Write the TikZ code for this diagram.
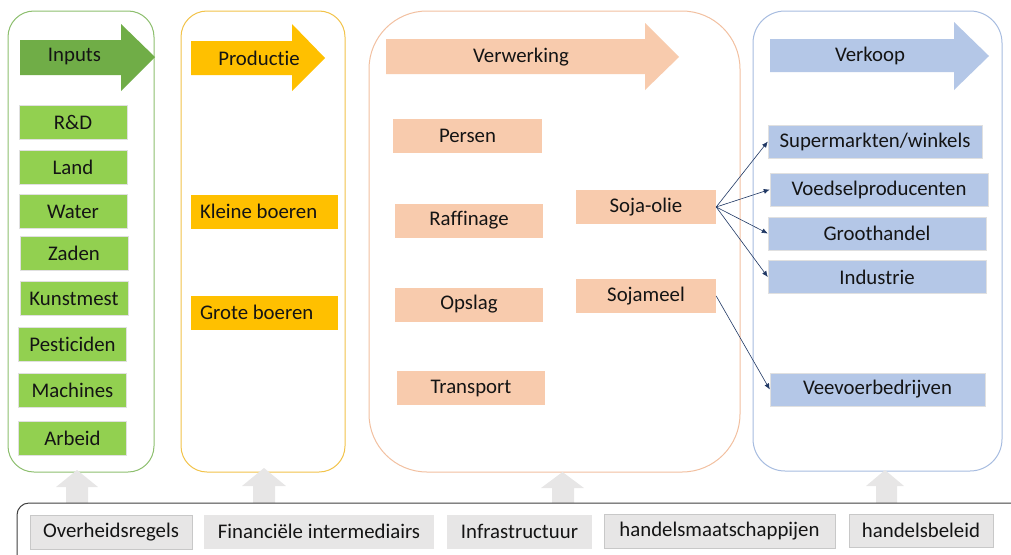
\documentclass[tikz,border=0pt]{standalone}
\usepackage{fontspec}
\setmainfont{Carlito}[Ligatures={NoCommon,NoDiscretionary}]
\usetikzlibrary{arrows.meta}
\definecolor{gIn}{HTML}{70AD47}
\definecolor{gBox}{HTML}{92D050}
\definecolor{gLine}{HTML}{8DBF6E}
\definecolor{yArr}{HTML}{FFC000}
\definecolor{yLine}{HTML}{F2C34A}
\definecolor{pArr}{HTML}{F8CBAD}
\definecolor{pLine}{HTML}{F2C0A0}
\definecolor{bArr}{HTML}{B4C7E7}
\definecolor{bLine}{HTML}{A7BCE0}
\definecolor{grFill}{HTML}{E7E6E6}
\definecolor{grLine}{HTML}{C8C8C8}
\definecolor{navy}{HTML}{203864}
\definecolor{txt}{HTML}{141414}
\tikzset{
  container/.style={line width=1pt, fill=white},
  itembox/.style={draw=black!12, line width=0.4pt, minimum height=34pt, inner sep=0pt, text=txt},
  greenbox/.style={itembox, fill=gBox, minimum width=108pt},
  yellowbox/.style={itembox, fill=yArr, draw=none, text width=129pt, align=flush left, inner xsep=9pt},
  peachbox/.style={itembox, fill=pArr, draw=none},
  bluebox/.style={itembox, fill=bArr, draw=black!12},
  graybox/.style={itembox, fill=grFill, draw=grLine},
  arrowlabel/.style={text=txt, inner sep=0pt},
  flow/.style={draw=navy, line width=0.6pt, -{Latex[length=6pt,width=5pt]}},
  uparrow/.style={fill=grFill, draw=none}
}
\begin{document}
\begin{tikzpicture}[x=1pt,y=-1pt, font=\fontsize{20.8}{24}\selectfont]
\useasboundingbox (0,0) rectangle (1011,554);
\begin{scope}
\clip (0,0) rectangle (1011,554);
% containers
\draw[container, draw=gLine, rounded corners=26pt] (8,11) rectangle (154,472);
\draw[container, draw=yLine, rounded corners=26pt] (181,11) rectangle (345,472);
\draw[container, draw=pLine, rounded corners=58pt] (369,11) rectangle (740,472);
\draw[container, draw=bLine, rounded corners=32pt] (753,11) rectangle (1002,471);
% header arrows
\fill[gIn] (20,40) -- (121,40) -- (121,24) -- (155,57) -- (121,91) -- (121,75) -- (20,75) -- cycle;
\node[arrowlabel] (inputs) at (74.5,57) {Inputs};
\fill[yArr] (191,41) -- (292,41) -- (292,24) -- (325,58) -- (292,91) -- (292,75) -- (191,75) -- cycle;
\node[arrowlabel] (productie) at (259,58) {Productie};
\fill[pArr] (386,39) -- (645,39) -- (645,23) -- (679,57) -- (645,90) -- (645,74) -- (386,74) -- cycle;
\node[arrowlabel] (verwerking) at (521,57) {Verwerking};
\fill[bArr] (770,39) -- (954,39) -- (954,22) -- (989,56) -- (954,90) -- (954,72) -- (770,72) -- cycle;
\node[arrowlabel] (verkoop) at (870,56) {Verkoop};
% inputs
\node[greenbox] (rd) at (73,122.5) {R\&D};
\node[greenbox] (land) at (73,167) {Land};
\node[greenbox] (water) at (73,211.5) {Water};
\node[greenbox] (zaden) at (74,253.5) {Zaden};
\node[greenbox] (kunstmest) at (74,298.5) {Kunstmest};
\node[greenbox] (pesticiden) at (72.5,344) {Pesticiden};
\node[greenbox] (machines) at (72.5,390) {Machines};
\node[greenbox] (arbeid) at (72.5,438) {Arbeid};
% productie
\node[yellowbox] (kleine) at (264.5,211.5) {Kleine boeren};
\node[yellowbox] (grote) at (264.5,312.5) {Grote boeren};
% verwerking
\node[peachbox, minimum width=149pt] (persen) at (467.5,136) {Persen};
\node[peachbox, minimum width=148pt] (raffinage) at (469,220.5) {Raffinage};
\node[peachbox, minimum width=148pt] (opslag) at (469,304.5) {Opslag};
\node[peachbox, minimum width=148pt] (transport) at (471,388) {Transport};
\node[peachbox, minimum width=140pt] (sojaolie) at (646,207) {Soja-olie};
\node[peachbox, minimum width=140pt] (sojameel) at (646,296) {Sojameel};
% verkoop
\node[bluebox, minimum width=214pt, minimum height=33pt] (super) at (875,141.5) {Supermarkten/winkels};
\node[bluebox, minimum width=218pt, minimum height=33pt] (voedsel) at (879,189.5) {Voedselproducenten};
\node[bluebox, minimum width=218pt, minimum height=33pt] (groot) at (877,233.5) {Groothandel};
\node[bluebox, minimum width=218pt, minimum height=33pt] (industrie) at (877,277) {Industrie};
\node[bluebox, minimum width=215pt, minimum height=33pt] (veevoer) at (877.5,389.5) {Veevoerbedrijven};
% connectors
\draw[flow] (sojaolie.east) -- (super.west);
\draw[flow] (sojaolie.east) -- (voedsel.west);
\draw[flow] (sojaolie.east) -- (groot.west);
\draw[flow] (sojaolie.east) -- (industrie.west);
\draw[flow] (sojameel.east) -- (veevoer.west);
% up arrows
\fill[uparrow] (66,503) -- (66,487) -- (56,487) -- (77,470) -- (98,487) -- (88,487) -- (88,503) -- cycle;
\fill[uparrow] (253,503) -- (253,486) -- (242,486) -- (264,468) -- (286,486) -- (275,486) -- (275,503) -- cycle;
\fill[uparrow] (552,503) -- (552,488) -- (541,488) -- (562.5,472) -- (584,488) -- (574,488) -- (574,503) -- cycle;
\fill[uparrow] (876,503) -- (876,486) -- (866,486) -- (885,470) -- (904,486) -- (897,486) -- (897,503) -- cycle;
% bottom frame
\draw[draw=black!75, line width=1pt, rounded corners=12pt, fill=white] (17,503) rectangle (1040,590);
\node[graybox, minimum width=162pt] (overheid) at (111,532) {Overheidsregels};
\node[graybox, minimum width=230pt, draw=none] (financieel) at (319,531.5) {Financiële intermediairs};
\node[graybox, minimum width=145pt, draw=none] (infra) at (519.5,531.5) {Infrastructuur};
\node[graybox, minimum width=231pt] (handelsm) at (719.5,531) {handelsmaatschappijen};
\node[graybox, minimum width=144pt, minimum height=33pt] (handelsb) at (921,530.5) {handelsbeleid};
\end{scope}
\end{tikzpicture}
\end{document}
